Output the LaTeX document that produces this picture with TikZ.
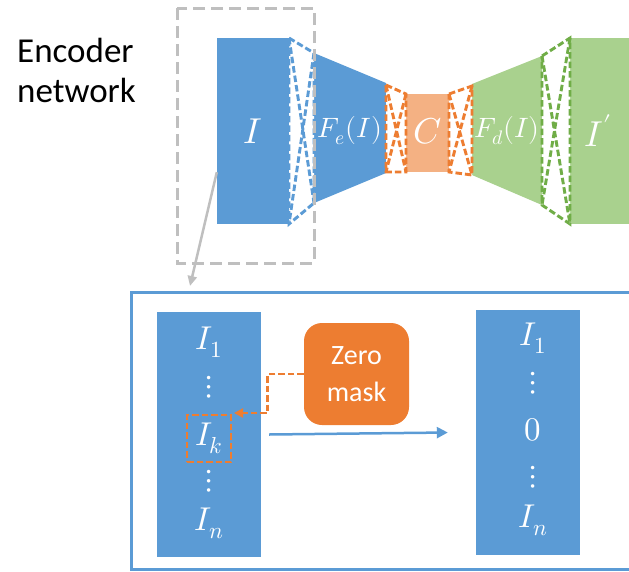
\documentclass[tikz,border=0pt]{standalone}
\usepackage{fontspec}
\usepackage{unicode-math}
\setmathfont{Latin Modern Math}
\setsansfont{Carlito}
\usetikzlibrary{arrows.meta}
\definecolor{encblue}{HTML}{5B9BD5}
\definecolor{encorange}{HTML}{ED7D31}
\definecolor{codeorange}{HTML}{F4B183}
\definecolor{decgreen}{HTML}{A9D18E}
\definecolor{linkgreen}{HTML}{70AD47}
\definecolor{boxgray}{HTML}{BFBFBF}
\begin{document}
\begin{tikzpicture}[x=1pt,y=-1pt,
  block/.style={fill=#1, draw=none, inner sep=0pt, text=white},
  link/.style={draw=#1, fill=white, line width=2.9pt, dash pattern=on 6.5pt off 3pt, line join=miter},
  biglbl/.style={text=white, inner sep=0pt, font=\fontsize{36}{42}\selectfont},
  midlbl/.style={text=white, inner sep=0pt, font=\fontsize{28}{34}\selectfont},
  collbl/.style={text=white, inner sep=0pt, font=\fontsize{33}{38}\selectfont},
  toptext/.style={anchor=base west, inner sep=0pt, font=\sffamily\fontsize{35}{40}\selectfont},
]
\useasboundingbox (0,0) rectangle (629,571);
\clip (0,0) rectangle (629,571);

% title
\node[toptext] (enc1) at (17,62) {Encoder};
\node[toptext] (enc2) at (17,102) {network};

% encoder / code / decoder blocks
\node[block=encblue, minimum width=72pt, minimum height=186pt] (I) at (253,131) {};
\fill[encblue] (314,53) -- (386,83) -- (386,173) -- (314,203) -- cycle;
\node[block=codeorange, minimum width=43pt, minimum height=78pt] (C) at (427.5,133) {};
\fill[decgreen] (472,84) -- (542,56) -- (542,205) -- (472,175) -- cycle;
\fill[decgreen] (570,38) rectangle (640,224);

% dashed links between blocks
\draw[link=encblue] (289,38) -- (314,53) -- (314,203) -- (289,224) -- cycle;
\draw[link=encblue] (289,38) -- (314,203) (314,53) -- (289,224);
\draw[link=encorange] (386,85) -- (406,94) -- (406,172) -- (386,172) -- cycle;
\draw[link=encorange] (386,85) -- (406,172) (406,94) -- (386,172);
\draw[link=encorange] (449,94) -- (472,86) -- (472,175) -- (449,172) -- cycle;
\draw[link=encorange] (449,94) -- (472,175) (472,86) -- (449,172);
\draw[link=linkgreen] (542,56) -- (570,38) -- (570,224) -- (542,205) -- cycle;
\draw[link=linkgreen] (542,56) -- (570,224) (570,38) -- (542,205);

% labels
\node[biglbl] (lI) at (I) {$I$};
\node[midlbl] (lFe) at (350,131) {$F_e(I)$};
\node[biglbl] (lC) at (427.5,131) {$C$};
\node[midlbl] (lFd) at (507,131) {$F_d(I)$};
\node[biglbl] (lIp) at (598,131) {$I'$};

% selection of the input
\draw[boxgray, line width=3pt, dash pattern=on 12pt off 6pt] (177,8) rectangle (314,263);
\coordinate (zoomend) at (190,286);
\draw[boxgray, line width=2.5pt, -{Triangle[length=10pt,width=9pt]}] ([yshift=52pt]I.south west) -- (zoomend);

% detail frame
\draw[encblue, line width=3pt] (131,292) rectangle (660,569);

% input vector
\node[block=encblue, minimum width=104pt, minimum height=245pt] (colL) at (209,434.5) {};
\node[collbl] (a1) at (209,342) {$I_1$};
\node[collbl] (a2) at (209,387) {$\vdots$};
\node[collbl, draw=encorange, line width=2.9pt, dash pattern=on 6.5pt off 3pt,
      minimum width=44pt, minimum height=47pt] (kbox) at (209,438.5) {$I_k$};
\node[collbl] (a4) at (209,481) {$\vdots$};
\node[collbl] (a5) at (209,523) {$I_n$};

% mask
\node[block=encorange, rounded corners=18pt, minimum width=105pt, minimum height=102pt,
      align=center, font=\sffamily\fontsize{28}{37}\selectfont] (mask) at (356.5,374) {Zero\\mask};
\coordinate (kin) at (234,413);
\draw[encorange, line width=2.9pt, dash pattern=on 6.5pt off 3pt, -{Triangle[length=9pt,width=9pt]}]
  (mask.west) -- ++(-36,0) |- (kin);

% output vector
\node[block=encblue, minimum width=104pt, minimum height=245pt] (colR) at (528,432.5) {};
\node[collbl] (b1) at (533,338) {$I_1$};
\node[collbl] (b2) at (533,383) {$\vdots$};
\node[collbl] (b3) at (533,430) {$0$};
\node[collbl] (b4) at (533,477) {$\vdots$};
\node[collbl] (b5) at (533,520) {$I_n$};

\draw[encblue, line width=2.5pt, -{Triangle[length=11pt,width=11pt]}]
  ([xshift=8pt]colL.east) -- ([xshift=-28pt]colR.west);
\end{tikzpicture}
\end{document}
